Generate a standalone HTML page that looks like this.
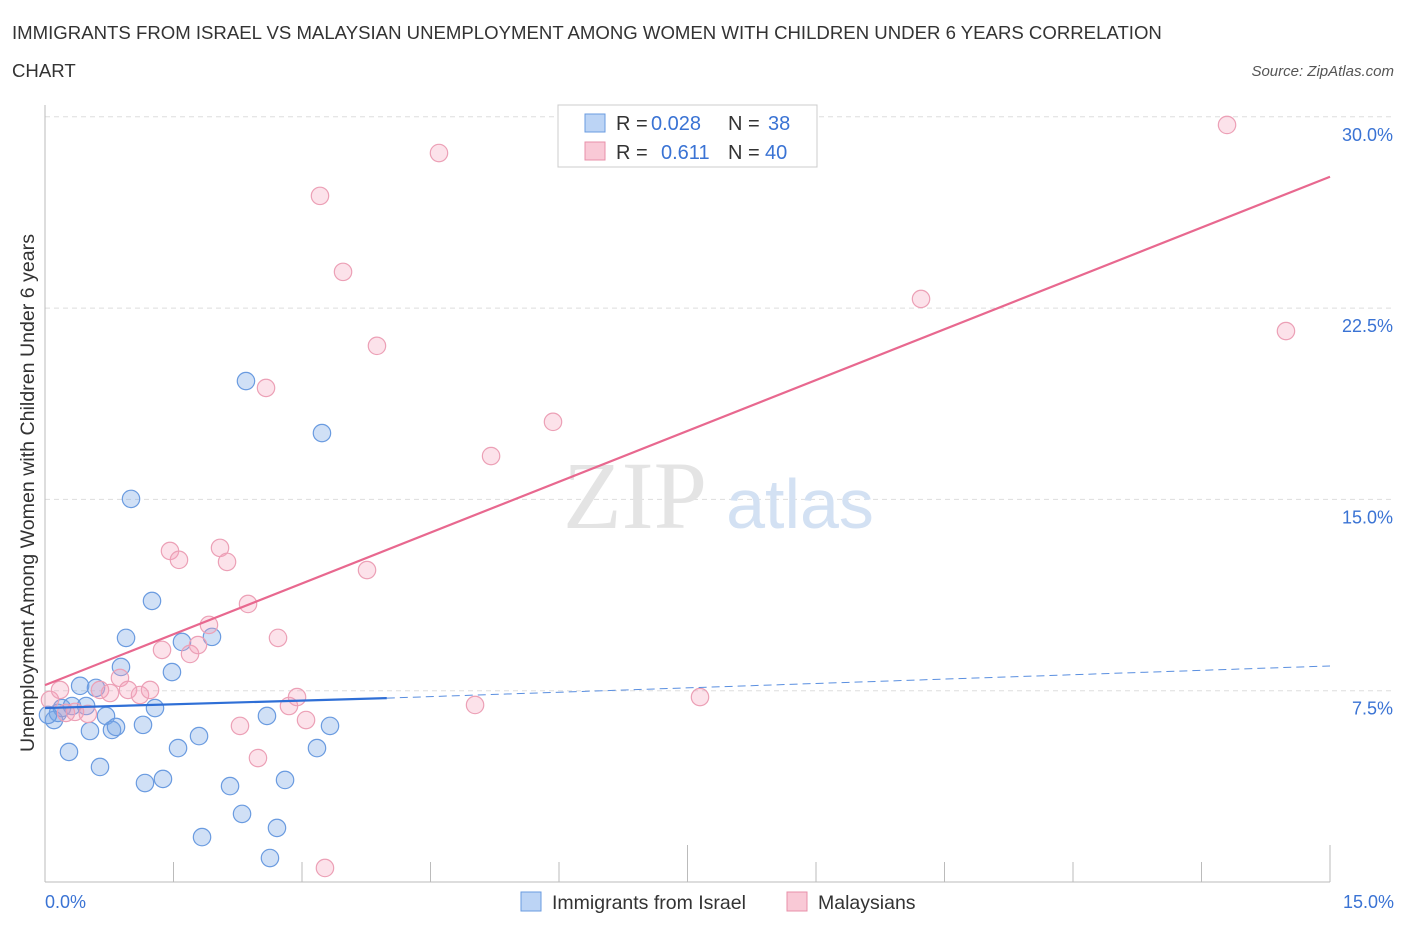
<!DOCTYPE html><html><head><meta charset="utf-8"><style>
body{margin:0;background:#fff;font-family:"Liberation Sans",sans-serif}
#c{position:absolute;left:0;top:0}
</style></head><body>
<svg id="c" width="1406" height="930" xmlns="http://www.w3.org/2000/svg">
<text x="12" y="39" font-size="18.6" fill="#333">IMMIGRANTS FROM ISRAEL VS MALAYSIAN UNEMPLOYMENT AMONG WOMEN WITH CHILDREN UNDER 6 YEARS CORRELATION</text>
<text x="12" y="77" font-size="18.6" fill="#333">CHART</text>
<text x="1394" y="76" font-size="15" fill="#555" text-anchor="end" font-style="italic">Source: ZipAtlas.com</text>
<g id="grid"></g>
<text x="635" y="528" font-size="96" fill="#e4e4e4" font-family="Liberation Serif" text-anchor="middle">ZIP</text>
<text x="800" y="528" font-size="70" fill="#d3e1f3" text-anchor="middle">atlas</text>
<g id="marks"></g>
<text transform="translate(34,493) rotate(-90)" font-size="19.6" fill="#333" text-anchor="middle">Unemployment Among Women with Children Under 6 years</text>
<g>
<rect x="558" y="105" width="259" height="62" fill="#fff" stroke="#ccc"/>
<rect x="585" y="114" width="20" height="18" fill="#bcd4f5" stroke="#6a9be0"/>
<rect x="585" y="142" width="20" height="18" fill="#f9c9d6" stroke="#e890a9"/>
<text x="616" y="130" font-size="20" fill="#333">R =</text>
<text x="651" y="130" font-size="20" fill="#3a73d4">0.028</text>
<text x="728" y="130" font-size="20" fill="#333">N =</text>
<text x="768" y="130" font-size="20" fill="#3a73d4">38</text>
<text x="616" y="159" font-size="20" fill="#333">R =</text>
<text x="661" y="159" font-size="20" fill="#3a73d4">0.611</text>
<text x="728" y="159" font-size="20" fill="#333">N =</text>
<text x="765" y="159" font-size="20" fill="#3a73d4">40</text>
</g>
<g>
<rect x="521" y="892" width="20" height="19" fill="#bcd4f5" stroke="#6a9be0"/>
<text x="552" y="909" font-size="19.5" fill="#333">Immigrants from Israel</text>
<rect x="787" y="892" width="20" height="19" fill="#f9c9d6" stroke="#e890a9"/>
<text x="818" y="909" font-size="19.5" fill="#333">Malaysians</text>
</g>
</svg>
<script>
const yTicks=[7.5,15,22.5,30];
const yTickLabels=["7.5%","15.0%","22.5%","30.0%"];
const xTickLabels=["0.0%","15.0%"];
const israelX=[0.105,0.152,0.198,0.28,0.315,0.41,0.48,0.525,0.595,0.642,0.712,0.782,0.829,0.887,0.946,1.004,1.144,1.167,1.249,1.284,1.377,1.482,1.553,1.599,1.798,1.833,1.949,2.16,2.3,2.346,2.591,2.626,2.708,2.802,3.175,3.233,3.327,0.035];
const israelY=[6.35,6.63,6.82,5.10,6.90,7.69,6.90,5.92,7.61,4.51,6.51,5.96,6.08,8.43,9.57,15.02,6.16,3.88,11.02,6.82,4.04,8.23,5.25,9.41,5.72,1.76,9.61,3.76,2.67,19.64,6.51,0.94,2.12,4.00,5.25,17.60,6.12,6.55];
const malayX=[0.058,0.175,0.245,0.35,0.5,0.642,0.759,0.875,0.969,1.109,1.226,1.366,1.459,1.564,1.693,1.786,1.914,2.043,2.125,2.276,2.37,2.486,2.58,2.72,2.848,2.942,3.047,3.21,3.268,3.479,3.759,3.875,4.599,5.02,5.207,5.93,7.646,10.226,13.798,14.486];
const malayY=[7.14,7.53,6.63,6.67,6.59,7.53,7.41,8.0,7.53,7.33,7.53,9.10,12.98,12.63,8.94,9.29,10.08,13.10,12.55,6.12,10.90,4.86,19.37,9.57,6.90,7.25,6.35,26.90,0.55,23.92,12.23,21.02,28.58,6.94,16.70,18.04,7.25,22.86,29.68,21.60];
const israelTrend=[6.82,7.21,8.47];
const israelTrendX=[0,3.99,15];
const malayTrend=[7.72,27.65];
const malayTrendX=[0,15];
const X=v=>45+v/15*1285, Y=v=>882-v/7.5*191.3;
const NS="http://www.w3.org/2000/svg";
function mk(t,a,p){const e=document.createElementNS(NS,t);for(const k in a)e.setAttribute(k,a[k]);p.appendChild(e);return e;}
const g=document.getElementById('grid'), m=document.getElementById('marks');
yTicks.forEach((t,i)=>{
 const l=mk('line',{x1:45,x2:1395,y1:Y(t),y2:Y(t),stroke:'#ddd','stroke-dasharray':'5,4'},g);
 
 
 const tx=mk('text',{x:1393,y:Y(t)+24,'font-size':18,fill:'#3a73d4','text-anchor':'end'},g);
 tx.textContent=yTickLabels[i];
 
 
});
mk('line',{x1:45,x2:45,y1:105,y2:882,stroke:'#bbb'},g);
mk('line',{x1:45,x2:1330,y1:882,y2:882,stroke:'#bbb'},g);
for(let i=0;i<=10;i++){const x=45+i*128.5;const l=mk('line',{x1:x,x2:x,y1:882,y2:i%5==0?845:862,stroke:'#bbb'},g);
 
 }
[[0,'start',45],[15,'end',1394]].forEach((d,i)=>{const t=mk('text',{x:d[2],y:908,'font-size':18,fill:'#3a73d4','text-anchor':d[1]},g);t.textContent=xTickLabels[i];
 
 });
israelX.forEach((x,i)=>{const c=mk('circle',{cx:X(x),cy:Y(israelY[i]),r:8.7,fill:'rgba(120,165,230,0.35)',stroke:'#6a9be0','stroke-width':1.2},m);
 
 });
malayX.forEach((x,i)=>{const c=mk('circle',{cx:X(x),cy:Y(malayY[i]),r:8.7,fill:'rgba(245,160,185,0.3)',stroke:'#eca0b6','stroke-width':1.2},m);
 
 });
let t1=mk('line',{x1:X(malayTrendX[0]),y1:Y(malayTrend[0]),x2:X(malayTrendX[1]),y2:Y(malayTrend[1]),stroke:'#e8688f','stroke-width':2.2},m);


let t2=mk('line',{x1:X(israelTrendX[0]),y1:Y(israelTrend[0]),x2:X(israelTrendX[1]),y2:Y(israelTrend[1]),stroke:'#2f6fd6','stroke-width':2.2},m);


let t3=mk('line',{x1:X(israelTrendX[1]),y1:Y(israelTrend[1]),x2:X(israelTrendX[2]),y2:Y(israelTrend[2]),stroke:'#5a8fe0','stroke-width':1,'stroke-dasharray':'8,5'},m);


</script>
</body></html>
